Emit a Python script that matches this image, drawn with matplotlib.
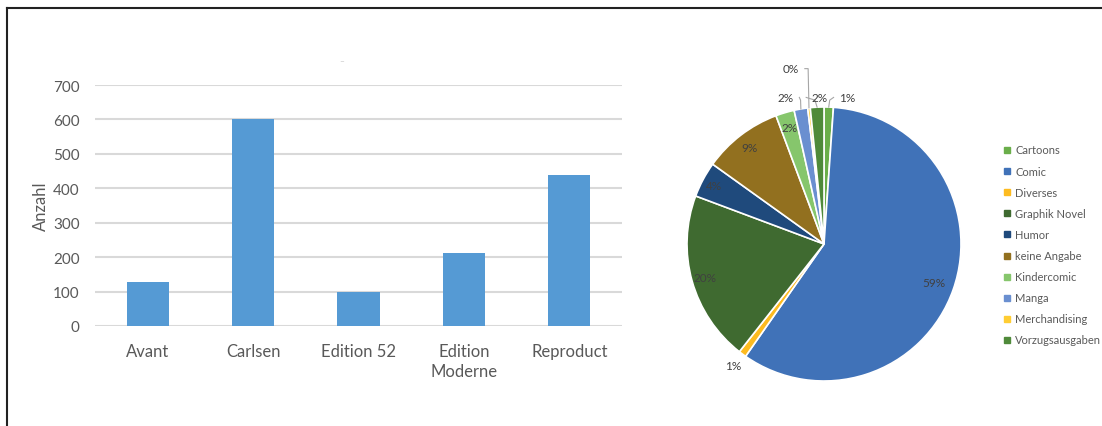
import numpy as np
import matplotlib
matplotlib.use('Agg')
import matplotlib.pyplot as plt
from matplotlib.patches import Rectangle
from matplotlib.lines import Line2D

plt.rcParams['font.family'] = ['Lato', 'DejaVu Sans']

# --- Daten ---
verlage = ['Avant', 'Carlsen', 'Edition 52', 'Edition\nModerne', 'Reproduct']
anzahl = [128, 602, 98, 211, 440]
y_ticks = [0, 100, 200, 300, 400, 500, 600, 700]

genres = ['Cartoons', 'Comic', 'Diverses', 'Graphik Novel', 'Humor', 'keine Angabe',
          'Kindercomic', 'Manga', 'Merchandising', 'Vorzugsausgaben']
anteile = [1.1, 58.6, 0.9, 20.1, 4.2, 9.4, 2.2, 1.6, 0.3, 1.6]
genre_farben = ['#6AAE4A', '#4072B8', '#FDBB20', '#3F6A30', '#1F4A7C', '#92701F',
                '#86C66C', '#6A8FD0', '#FFCD33', '#4F8A3A']

# Beschriftungen: Radius fuer innere Labels, feste Position fuer kleine Stuecke
label_r = [None, 0.85, None, 0.90, 0.91, 0.89, 0.89, None, None, None]
aussen = {0: (0.17, 1.07), 2: (-0.66, -0.89), 7: (-0.28, 1.07),
          8: (-0.24, 1.28), 9: (-0.03, 1.07)}

W, H = 1102, 427
fig = plt.figure(figsize=(W / 100, H / 100), dpi=100)

# Rahmen (nur oben und links sichtbar)
fig.add_artist(Line2D([7 / W, 1], [1 - 9 / H, 1 - 9 / H], color='#222222', lw=1.5))
fig.add_artist(Line2D([7 / W, 7 / W], [0, 1 - 9 / H], color='#222222', lw=1.5))

# --- Balkendiagramm ---
ax = fig.add_axes([95 / W, 1 - 327 / H, 527 / W, 241 / H])
x = np.arange(len(verlage))
ax.bar(x, anzahl, width=0.4, color='#559AD4', zorder=3)
ax.set_xlim(-0.5, len(verlage) - 0.5)
ax.set_ylim(0, 700)
ax.set_yticks(y_ticks)
ax.set_xticks(x)
ax.set_xticklabels(verlage, fontsize=12, color='#595959', linespacing=1.3)
ax.tick_params(axis='y', labelsize=11, labelcolor='#595959', length=0, pad=11)
ax.tick_params(axis='x', length=0, pad=12)
ax.grid(axis='y', color='#D9D9D9', lw=1.5, zorder=0)
for s in ax.spines.values():
    s.set_visible(False)
ax.set_ylabel('Anzahl', fontsize=12, color='#595959')
ax.yaxis.set_label_coords(-0.087, 0.5)
fig.text(342 / W, 1 - 62 / H, '\u2013', fontsize=6, color='#BBBBBB', ha='center', va='center')

# --- Kreisdiagramm ---
R = 137
half = 150
pax = fig.add_axes([(824 - half) / W, (H - 245 - half) / H, 2 * half / W, 2 * half / H])
wedges, _ = pax.pie(anteile, colors=genre_farben, startangle=90, counterclock=False,
                    wedgeprops=dict(edgecolor='white', linewidth=1.2))
lim = half / R
pax.set_xlim(-lim, lim)
pax.set_ylim(-lim, lim)
pax.set_aspect('equal')
pax.axis('off')

for i, w in enumerate(wedges):
    mid = np.deg2rad((w.theta1 + w.theta2) / 2)
    txt = f'{anteile[i]:.0f}%'
    if label_r[i] is not None:
        r = label_r[i]
        pax.text(r * np.cos(mid), r * np.sin(mid), txt, ha='center', va='center',
                 fontsize=8.5, color='#404040')
    else:
        tx, ty = aussen[i]
        pax.text(tx, ty, txt, ha='center', va='center', fontsize=8.5, color='#404040')
        if i != 2:
            ex, ey = np.cos(mid), np.sin(mid)
            sx = tx + (0.1 if tx < ex else -0.1)
            pax.plot([ex, ex + (sx - ex) * 0.2, sx], [ey, ty, ty] if i == 8 else [ey, ty - 0.02, ty],
                     color='#A6A6A6', lw=0.8, clip_on=False)

# --- Legende ---
for i, (g, c) in enumerate(zip(genres, genre_farben)):
    yy = 1 - (151 + 21.1 * i) / H
    fig.add_artist(Rectangle((1004 / W, yy - 3 / H), 6 / W, 6 / H, color=c,
                             transform=fig.transFigure))
    fig.text(1015 / W, yy, g, fontsize=8, color='#595959', va='center')

fig.savefig('out.png', dpi=100)
